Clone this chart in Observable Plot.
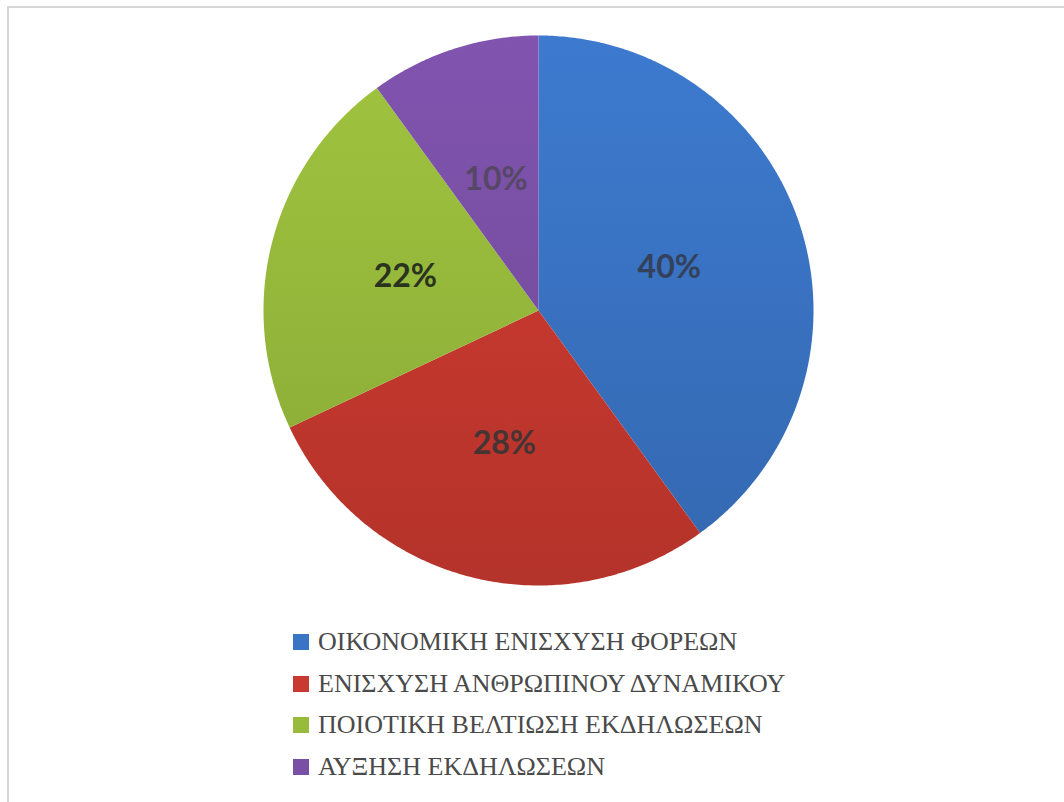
<!DOCTYPE html>
<html>
<head>
<meta charset="utf-8">
<script src="https://cdn.jsdelivr.net/npm/d3@7"></script>
<script src="https://cdn.jsdelivr.net/npm/@observablehq/plot@0.6"></script>
<style>
  html, body { margin: 0; padding: 0; background: #fff; }
  #frame { position: absolute; left: 7px; top: 6px; width: 1057px; height: 796px;
           border-left: 2px solid #d6d6d6; border-top: 2px solid #d6d6d6; box-sizing: border-box; }
  #chart { position: absolute; left: 0; top: 0; }
  #legend { position: absolute; left: 293px; top: 621px; font-family: "Liberation Serif", "Times New Roman", "DejaVu Serif", serif;
            font-size: 26px; color: #4a4a4a; }
  .row { display: flex; align-items: center; height: 41.7px; white-space: nowrap; }
  .sw { width: 16px; height: 16px; margin-right: 9px; flex: none; }
</style>
</head>
<body>
<div id="frame"></div>
<div id="chart"></div>
<div id="legend"></div>
<script>
const categories = ["ΟΙΚΟΝΟΜΙΚΗ ΕΝΙΣΧΥΣΗ ΦΟΡΕΩΝ", "ΕΝΙΣΧΥΣΗ ΑΝΘΡΩΠΙΝΟΥ ΔΥΝΑΜΙΚΟΥ", "ΠΟΙΟΤΙΚΗ ΒΕΛΤΙΩΣΗ ΕΚΔΗΛΩΣΕΩΝ", "ΑΥΞΗΣΗ ΕΚΔΗΛΩΣΕΩΝ"];
const values = [40, 28, 22, 10];
const labels = ["40%", "28%", "22%", "10%"];
const colors = ["#3a74c4", "#c8392f", "#98bb3c", "#7a50a6"];
const labelColors = ["#34415a", "#453434", "#2a331e", "#574766"];

// pie layout (clockwise from 12 o'clock), derived from the values
const pie = d3.pie().sort(null).value(d => d.value);
const arcs = pie(categories.map((name, i) => ({name, value: values[i], label: labels[i]})));

const slicePts = [];
for (const a of arcs) {
  const n = Math.max(2, Math.ceil((a.endAngle - a.startAngle) / 0.01));
  slicePts.push({name: a.data.name, x: 0, y: 0});
  for (let k = 0; k <= n; k++) {
    const t = a.startAngle + (a.endAngle - a.startAngle) * k / n;
    slicePts.push({name: a.data.name, x: Math.sin(t), y: Math.cos(t)});
  }
}
const labelPts = arcs.map((a, i) => {
  const m = (a.startAngle + a.endAngle) / 2;
  return {name: a.data.name, label: a.data.label, x: 0.5 * Math.sin(m), y: 0.5 * Math.cos(m), c: labelColors[i]};
});

const plot = Plot.plot({
  width: 1064,
  height: 610,
  marginLeft: 263, marginRight: 251, marginTop: 35, marginBottom: 25,
  x: {domain: [-1, 1], axis: null},
  y: {domain: [-1, 1], axis: null},
  color: {domain: categories, range: colors.map((c, i) => `url(#grad${i})`)},
  marks: [
    Plot.line(slicePts, {x: "x", y: "y", z: "name", fill: "name", stroke: "none", curve: "linear-closed"}),
    Plot.text(labelPts, {x: "x", y: "y", text: "label", fill: "c", fontSize: 32, fontWeight: "bold",
      fontFamily: "Lato, 'Open Sans', sans-serif"})
  ]
});

// gradients (lighter top, darker bottom) for each slice colour
const svgns = "http://www.w3.org/2000/svg";
const defs = document.createElementNS(svgns, "defs");
colors.forEach((c, i) => {
  const g = document.createElementNS(svgns, "linearGradient");
  g.setAttribute("id", `grad${i}`);
  g.setAttribute("gradientUnits", "userSpaceOnUse");
  g.setAttribute("x1", 0); g.setAttribute("y1", 35); g.setAttribute("x2", 0); g.setAttribute("y2", 585);
  const s1 = document.createElementNS(svgns, "stop");
  s1.setAttribute("offset", "0"); s1.setAttribute("stop-color", d3.color(c).brighter(0.15).formatHex());
  const s2 = document.createElementNS(svgns, "stop");
  s2.setAttribute("offset", "1"); s2.setAttribute("stop-color", d3.color(c).darker(0.3).formatHex());
  g.appendChild(s1); g.appendChild(s2);
  defs.appendChild(g);
});
plot.insertBefore(defs, plot.firstChild);
document.getElementById("chart").appendChild(plot);

const legend = document.getElementById("legend");
categories.forEach((name, i) => {
  const row = document.createElement("div");
  row.className = "row";
  const sw = document.createElement("div");
  sw.className = "sw";
  sw.style.background = colors[i];
  const tx = document.createElement("span");
  tx.textContent = name;
  row.appendChild(sw); row.appendChild(tx);
  legend.appendChild(row);
});
</script>
</body>
</html>
